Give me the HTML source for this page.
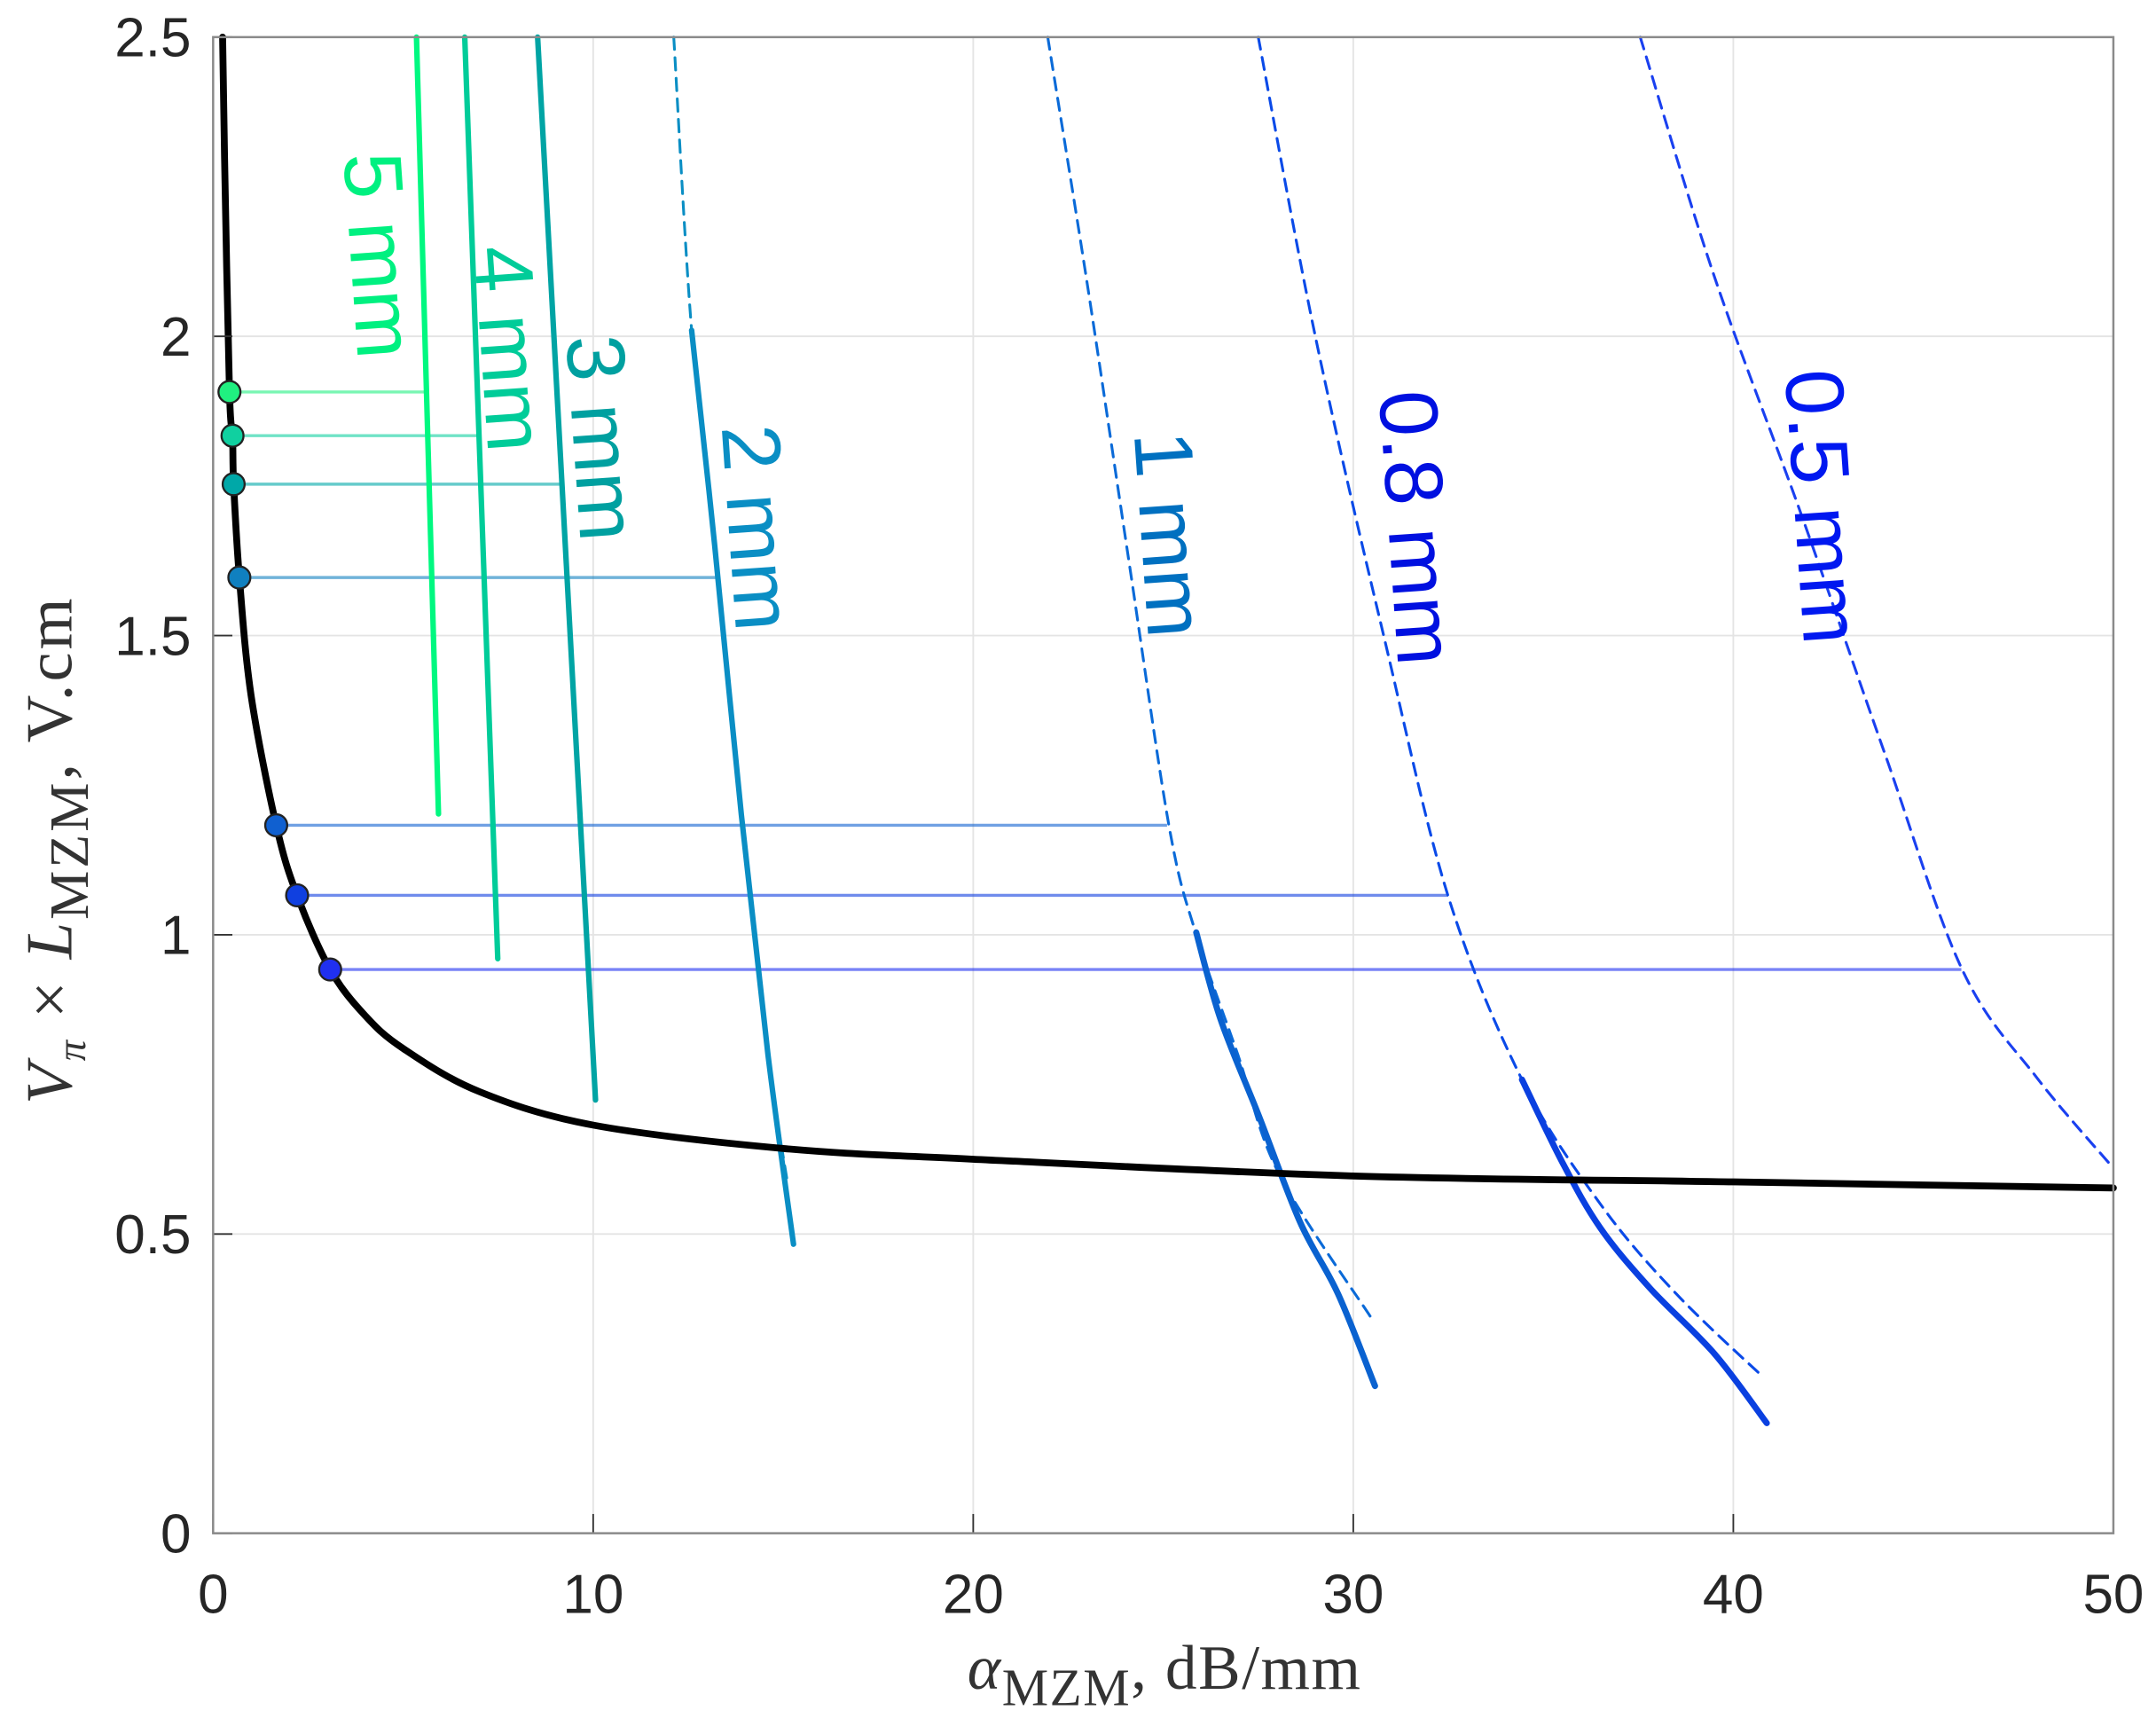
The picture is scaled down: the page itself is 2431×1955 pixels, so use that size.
<!DOCTYPE html>
<html><head><meta charset="utf-8"><style>
html,body{margin:0;padding:0;background:#fff}
svg{display:block}
</style></head><body>
<svg id="chart" width="2431" height="1955" viewBox="0 0 1568 1261" preserveAspectRatio="none" xmlns="http://www.w3.org/2000/svg">
<g id="grid"></g>
<g id="series"></g>
<g id="axes"></g>
<g id="labels"></g>
<text x="847" y="1228" text-anchor="middle" letter-spacing="1" font-family="Liberation Serif, serif" font-size="46" fill="#333"><tspan font-style="italic">α</tspan><tspan font-size="38" dy="12">MZM</tspan><tspan dy="-12">, dB/mm</tspan></text>
<text transform="translate(52,618) rotate(-90)" text-anchor="middle" letter-spacing="2" font-family="Liberation Serif, serif" font-size="48" fill="#333"><tspan font-style="italic">V</tspan><tspan font-size="30" dy="10" font-style="italic">π</tspan><tspan dy="-10"> × </tspan><tspan font-style="italic">L</tspan><tspan font-size="40" dy="12">MZM</tspan><tspan dy="-12">, V.cm</tspan></text>
</svg>
<script>
const xTicks=[0,10,20,30,40,50];
const yTicks=[0,0.5,1,1.5,2,2.5];
const yTickLabels=["0","0.5","1","1.5","2","2.5"];
const blackX=[0.25,0.3,0.43,0.51,0.54,0.69,1.0,1.66,2.21,3.08,4,5,7,10,15,20,30,40,50];
const blackY=[2.5,2.3,1.907,1.834,1.753,1.597,1.4,1.183,1.066,0.942,0.865,0.81,0.738,0.682,0.643,0.625,0.597,0.587,0.577];
const dotX=[0.43,0.51,0.54,0.69,1.66,2.21,3.08];
const dotY=[1.907,1.834,1.753,1.597,1.183,1.066,0.942];
const dotEndX=[5.6,7.0,9.2,13.3,25.1,32.5,46.0];
const dotColors=["#20f080","#10d0a0","#00a8a8","#1080c0","#1060d0","#1040e0","#2030f0"];
const s5x=[5.35,5.93], s5y=[2.5,1.202];
const s4x=[6.62,7.49], s4y=[2.5,0.96];
const s3x=[8.54,10.06], s3y=[2.5,0.724];
const s2x=[12.59,13.2,13.9,14.6,15.27], s2y=[2.01,1.65,1.2,0.8,0.483];
const d2x=[12.12,12.59,13.2,13.9,14.6,15.1], d2y=[2.5,2.01,1.65,1.2,0.8,0.59];
const d1x=[21.96,22.97,24.06,25.15,25.87,26.96,28.05,30.47], d1y=[2.5,2.1,1.64,1.183,1.0,0.8,0.6,0.36];
const s1x=[25.87,26.5,27.5,28.6,29.6,30.57], s1y=[1.004,0.86,0.7,0.52,0.4,0.246];
const d08x=[27.5,29.0,30.8,32.49,34.44,36.5,38.5,40.8], d08y=[2.5,2.0,1.5,1.066,0.758,0.55,0.4,0.26];
const s08x=[34.44,35.5,36.5,37.8,39.5,40.88], s08y=[0.758,0.62,0.51,0.41,0.3,0.184];
const d05x=[37.55,39.5,41.8,44.0,46.02,48.0,50], d05y=[2.5,2.1,1.7,1.3,0.942,0.76,0.61];
const labelText=["5 mm","4 mm","3 mm","2 mm","1 mm","0.8 mm","0.5 mm"];
const labelX=[3.62,7.05,9.48,13.57,24.42,30.93,41.61];
const labelY=[2.132,1.976,1.827,1.677,1.666,1.677,1.712];
const labelColors=["#00f080","#00cc99","#00a0a0","#0a8ec4","#0070c0","#0010e0","#0018f0"];

const L=155,R=1537,T=27,B=1115;
const X=v=>L+(v-0)/(50-0)*(R-L);
const Y=v=>B-(v-0)/(2.5-0)*(B-T);
const NS="http://www.w3.org/2000/svg";
function mk(tag,parent,attrs){const e=document.createElementNS(NS,tag);for(const k in attrs)e.setAttribute(k,attrs[k]);parent.appendChild(e);return e;}
const grid=document.getElementById('grid'),axes=document.getElementById('axes'),series=document.getElementById('series'),labels=document.getElementById('labels');
xTicks.forEach(t=>{
 const g=mk('line',grid,{x1:X(t),x2:X(t),y1:T,y2:B,stroke:'#e4e4e4','stroke-width':1.2});
 
 
 const tk=mk('line',axes,{x1:X(t),x2:X(t),y1:B,y2:B-14,stroke:'#333','stroke-width':1.2});
 
 
 const tx=mk('text',axes,{x:X(t),y:B+58,'text-anchor':'middle','font-family':'Liberation Sans, sans-serif','font-size':40,fill:'#262626'});
 tx.textContent=String(t);
 
 
});
yTicks.forEach((t,i)=>{
 const g=mk('line',grid,{x1:L,x2:R,y1:Y(t),y2:Y(t),stroke:'#e4e4e4','stroke-width':1.2});
 
 
 const tk=mk('line',axes,{x1:L,x2:L+14,y1:Y(t),y2:Y(t),stroke:'#333','stroke-width':1.2});
 
 
 const tx=mk('text',axes,{x:L-16,y:Y(t)+14,'text-anchor':'end','font-family':'Liberation Sans, sans-serif','font-size':40,fill:'#262626'});
 tx.textContent=yTickLabels[i];
 
 
});
const frame=mk('rect',axes,{x:L,y:T,width:R-L,height:B-T,fill:'none',stroke:'#8a8a8a','stroke-width':1.6});



function path(xs,ys){
 const p=xs.map((v,i)=>[X(v),Y(ys[i])]);
 let d='M'+p[0][0].toFixed(1)+','+p[0][1].toFixed(1);
 for(let i=0;i<p.length-1;i++){
  const p0=p[Math.max(0,i-1)],p1=p[i],p2=p[i+1],p3=p[Math.min(p.length-1,i+2)];
  const c1=[p1[0]+(p2[0]-p0[0])/6,p1[1]+(p2[1]-p0[1])/6];
  const c2=[p2[0]-(p3[0]-p1[0])/6,p2[1]-(p3[1]-p1[1])/6];
  d+=` C${c1[0].toFixed(1)},${c1[1].toFixed(1)} ${c2[0].toFixed(1)},${c2[1].toFixed(1)} ${p2[0].toFixed(1)},${p2[1].toFixed(1)}`;
 }
 return d;
}
function line(xs,ys,color,w,dash,name){
 const p=mk('path',series,{d:path(xs,ys),fill:'none',stroke:color,'stroke-width':w,'stroke-linejoin':'round','stroke-linecap':'round'});
 if(dash)p.setAttribute('stroke-dasharray',dash);
 
 
}
dotX.forEach((v,i)=>{
 const h=mk('line',series,{x1:X(v),x2:X(dotEndX[i]),y1:Y(dotY[i]),y2:Y(dotY[i]),stroke:dotColors[i],'stroke-opacity':0.6,'stroke-width':2.2});
 
 
});
line(d2x,d2y,'#0a8ec4',2,'9,6','dashed-2mm');
line(d1x,d1y,'#0a6ad8',2,'9,6','dashed-1mm');
line(d08x,d08y,'#0a4ae8',2,'9,6','dashed-0.8mm');
line(d05x,d05y,'#1a40f0',2,'9,6','dashed-0.5mm');
line(s5x,s5y,'#00f880',4,null,'line-5mm');
line(s4x,s4y,'#00cc99',4,null,'line-4mm');
line(s3x,s3y,'#00a4a4',4,null,'line-3mm');
line(s2x,s2y,'#0a8ec4',4,null,'line-2mm');
line(s1x,s1y,'#0a62d0',4.5,null,'line-1mm');
line(s08x,s08y,'#0a40e0',4.5,null,'line-0.8mm');
line(blackX,blackY,'#000',5,null,'vpi-l-curve');
dotX.forEach((v,i)=>{
 const c=mk('circle',series,{cx:X(v),cy:Y(dotY[i]),r:8,fill:dotColors[i],stroke:'#222','stroke-width':1.5});
 
 
});
labelText.forEach((t,i)=>{
 const tx=mk('text',labels,{transform:`translate(${X(labelX[i]).toFixed(1)},${Y(labelY[i]).toFixed(1)}) rotate(86)`,'text-anchor':'middle','font-family':'Liberation Sans, sans-serif','font-size':60,fill:labelColors[i]});
 tx.textContent=t;
 
 
});
</script>
</body></html>
